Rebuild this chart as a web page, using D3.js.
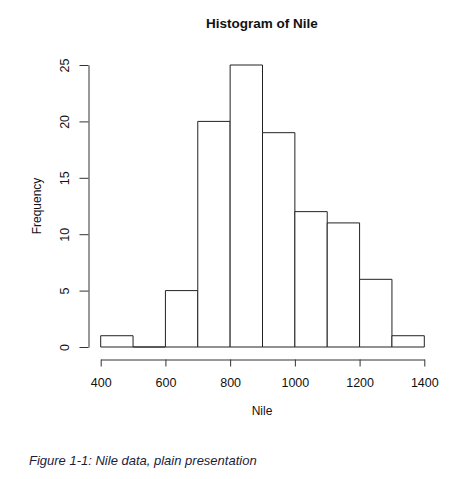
<!DOCTYPE html>
<html>
<head>
<meta charset="utf-8">
<script src="https://cdn.jsdelivr.net/npm/d3@7"></script>
<style>
  body { margin: 0; background: #fff; }
  text { font-family: "Liberation Sans", Arial, sans-serif; fill: #111; }
</style>
</head>
<body>
<div id="visual"></div>
<script>
// Nile histogram bins (breaks of 100) and counts
var binStarts = [400, 500, 600, 700, 800, 900, 1000, 1100, 1200, 1300];
var binWidth = 100;
var counts = [1, 0, 5, 20, 25, 19, 12, 11, 6, 1];
var xTicks = [400, 600, 800, 1000, 1200, 1400];
var yTicks = [0, 5, 10, 15, 20, 25];

var W = 474, H = 479;
var svg = d3.select("#visual")
	.append("svg")
	.attr("width", W)
	.attr("height", H);

var x = d3.scaleLinear().domain([400, 1400]).range([100.7, 424.3]);
var y = d3.scaleLinear().domain([0, 25]).range([347, 65]);

// bars as closed paths so an empty bin still shows its base line
svg.append("g")
	.selectAll("path")
	.data(counts)
	.enter()
	.append("path")
	.attr("d", function(d, i){
		var x0 = x(binStarts[i]), x1 = x(binStarts[i] + binWidth);
		var y0 = y(0), y1 = y(d);
		return "M" + x0 + "," + y0 + "V" + y1 + "H" + x1 + "V" + y0 + "Z";
	})
	.style("fill", "#fff")
	.style("stroke", "#222")
	.style("stroke-width", 1);

// x axis (R style, detached below)
var xAxis = svg.append("g")
	.attr("transform", "translate(0,359.5)")
	.call(d3.axisBottom(x).tickValues(xTicks).tickFormat(d3.format("d"))
		.tickSize(7).tickPadding(12).tickSizeOuter(0));
xAxis.select(".domain").attr("stroke", "#333");
xAxis.selectAll(".tick line").attr("stroke", "#333");
xAxis.selectAll(".tick text")
	.style("font-size", "12.5px")
	.style("fill", "#111");

// y axis, rotated labels
var yAxis = svg.append("g")
	.attr("transform", "translate(88.5,0)")
	.call(d3.axisLeft(y).tickValues(yTicks).tickSize(9).tickSizeOuter(0));
yAxis.select(".domain").attr("stroke", "#333");
yAxis.selectAll(".tick line").attr("stroke", "#333");
yAxis.selectAll(".tick text")
	.attr("x", null)
	.attr("dy", null)
	.attr("transform", "translate(-20,0) rotate(-90)")
	.style("text-anchor", "middle")
	.style("font-size", "12.5px")
	.style("fill", "#111");

// title
svg.append("text")
	.attr("x", 262)
	.attr("y", 28)
	.attr("text-anchor", "middle")
	.style("font-size", "13.5px")
	.style("font-weight", "bold")
	.text("Histogram of Nile");

// axis titles
svg.append("text")
	.attr("x", 262)
	.attr("y", 415)
	.attr("text-anchor", "middle")
	.style("font-size", "12px")
	.text("Nile");

svg.append("text")
	.attr("transform", "translate(41,206) rotate(-90)")
	.attr("text-anchor", "middle")
	.style("font-size", "12px")
	.text("Frequency");

// figure caption
svg.append("text")
	.attr("x", 29)
	.attr("y", 465)
	.style("font-size", "13px")
	.style("font-style", "italic")
	.style("fill", "#1c1c3c")
	.text("Figure 1-1: Nile data, plain presentation");
</script>
</body>
</html>
